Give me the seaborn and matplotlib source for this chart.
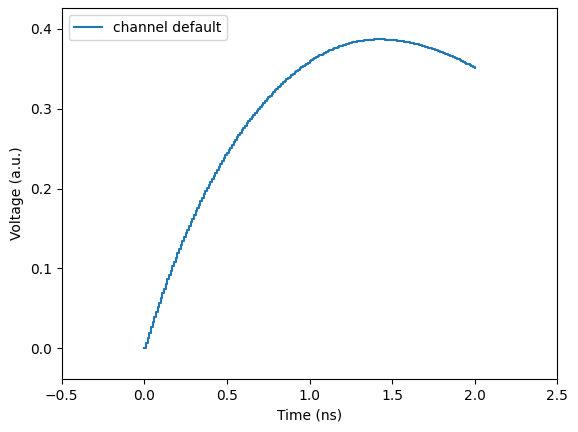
import matplotlib
matplotlib.use("Agg")
import numpy as np
import pandas as pd
import matplotlib.pyplot as plt
import seaborn as sns

# sample grid of the waveform (0.01 ns spacing, 0 .. 2 ns)
SAMPLE_STEP_NS = 0.01
N_SAMPLES = 201

# voltage, one value per sample
VOLTAGE = [
    0.0000, 0.0065, 0.0131, 0.0196, 0.0262, 0.0327, 0.0388, 0.0450, 0.0511, 0.0572,
    0.0634, 0.0691, 0.0748, 0.0806, 0.0863, 0.0920, 0.0974, 0.1027, 0.1081, 0.1134,
    0.1188, 0.1238, 0.1288, 0.1338, 0.1388, 0.1438, 0.1484, 0.1531, 0.1577, 0.1624,
    0.1670, 0.1714, 0.1757, 0.1800, 0.1844, 0.1887, 0.1927, 0.1968, 0.2008, 0.2048,
    0.2089, 0.2126, 0.2163, 0.2201, 0.2238, 0.2276, 0.2311, 0.2345, 0.2380, 0.2415,
    0.2450, 0.2482, 0.2514, 0.2547, 0.2579, 0.2611, 0.2641, 0.2671, 0.2701, 0.2730,
    0.2760, 0.2788, 0.2816, 0.2843, 0.2871, 0.2899, 0.2924, 0.2950, 0.2975, 0.3001,
    0.3026, 0.3050, 0.3073, 0.3097, 0.3120, 0.3144, 0.3165, 0.3187, 0.3209, 0.3230,
    0.3252, 0.3271, 0.3291, 0.3311, 0.3331, 0.3351, 0.3368, 0.3386, 0.3404, 0.3422,
    0.3440, 0.3456, 0.3472, 0.3489, 0.3505, 0.3521, 0.3535, 0.3550, 0.3564, 0.3579,
    0.3593, 0.3606, 0.3619, 0.3631, 0.3644, 0.3657, 0.3668, 0.3679, 0.3690, 0.3701,
    0.3712, 0.3721, 0.3731, 0.3740, 0.3749, 0.3759, 0.3766, 0.3774, 0.3782, 0.3789,
    0.3797, 0.3803, 0.3809, 0.3815, 0.3821, 0.3828, 0.3832, 0.3836, 0.3841, 0.3845,
    0.3850, 0.3852, 0.3855, 0.3858, 0.3861, 0.3864, 0.3865, 0.3866, 0.3868, 0.3869,
    0.3870, 0.3870, 0.3870, 0.3870, 0.3870, 0.3869, 0.3868, 0.3867, 0.3865, 0.3864,
    0.3863, 0.3860, 0.3858, 0.3855, 0.3853, 0.3850, 0.3847, 0.3843, 0.3839, 0.3836,
    0.3832, 0.3827, 0.3823, 0.3818, 0.3813, 0.3809, 0.3803, 0.3797, 0.3791, 0.3786,
    0.3780, 0.3773, 0.3767, 0.3760, 0.3753, 0.3747, 0.3739, 0.3731, 0.3724, 0.3716,
    0.3708, 0.3700, 0.3691, 0.3683, 0.3674, 0.3666, 0.3656, 0.3647, 0.3637, 0.3628,
    0.3619, 0.3608, 0.3598, 0.3588, 0.3577, 0.3567, 0.3556, 0.3545, 0.3534, 0.3523,
    0.3512,
]

SERIES_LABEL = "channel default"

time_ns = np.arange(N_SAMPLES) * SAMPLE_STEP_NS
df = pd.DataFrame({"time": time_ns, "voltage": VOLTAGE})

fig = plt.figure(figsize=(5.78, 4.32), dpi=100)
ax = fig.add_axes([61.7 / 578, (432 - 379.3) / 432, 495.6 / 578, 371.3 / 432])

sns.lineplot(data=df, x="time", y="voltage", drawstyle="steps-post",
             color="#1f77b4", linewidth=1.5, label=SERIES_LABEL, ax=ax)

ax.set_xlim(-0.5, 2.5)
ax.set_ylim(-0.0389, 0.4263)
ax.set_xticks([-0.5, 0.0, 0.5, 1.0, 1.5, 2.0, 2.5])
ax.set_yticks([0.0, 0.1, 0.2, 0.3, 0.4])
ax.set_xlabel("Time (ns)")
ax.set_ylabel("Voltage (a.u.)")
ax.legend(loc="upper left")

fig.savefig("out.png", dpi=100)
